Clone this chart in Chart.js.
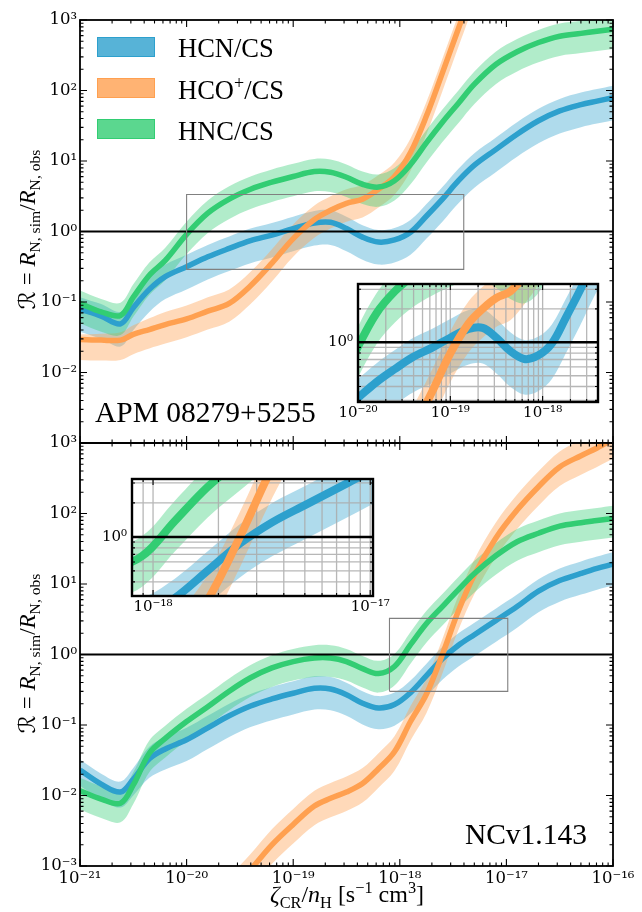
<!DOCTYPE html>
<html><head><meta charset="utf-8">
<script src="https://cdn.jsdelivr.net/npm/chart.js@4.4.0/dist/chart.umd.min.js"></script>
<style>
html,body{margin:0;padding:0;background:#fff;}
#wrap{position:relative;width:642px;height:912px;overflow:hidden;font-family:"Liberation Serif","DejaVu Serif","DejaVu Sans",serif;color:#000;}
canvas{position:absolute;}
.lab{position:absolute;white-space:nowrap;line-height:1;}
.patch{position:absolute;width:58px;height:20px;box-sizing:border-box;}
sub,sup{font-size:68%;line-height:0;}
</style></head><body>
<div id="wrap">
<canvas id="cTop" width="642" height="912" style="left:0;top:0"></canvas>
<canvas id="cBot" width="642" height="912" style="left:0;top:0"></canvas>
<canvas id="iTop" width="300" height="165" style="left:300px;top:270px"></canvas>
<canvas id="iBot" width="330" height="165" style="left:80px;top:465px"></canvas>

<div class="patch" style="left:97px;top:37px;background:rgba(45,160,205,0.8);border:1.5px solid rgb(45,160,205)"></div>
<div class="patch" style="left:97px;top:78px;background:rgba(255,160,80,0.8);border:1.5px solid rgb(255,160,80)"></div>
<div class="patch" style="left:97px;top:119px;background:rgba(50,205,115,0.8);border:1.5px solid rgb(50,205,115)"></div>
<div class="lab" style="left:178px;top:35px;font-size:26.5px">HCN/CS</div>
<div class="lab" style="left:178px;top:77px;font-size:26.5px">HCO<sup>+</sup>/CS</div>
<div class="lab" style="left:178px;top:118px;font-size:26.5px">HNC/CS</div>

<div class="lab" style="left:95px;top:398px;font-size:29.5px">APM 08279+5255</div>
<div class="lab" style="right:55px;top:820px;font-size:29.5px">NCv1.143</div>

<div class="lab" style="left:-123px;top:218px;width:300px;text-align:center;font-size:23px;transform:rotate(-90deg)"><i>ℛ</i> = <i>R</i><sub>N, sim</sub>/<i>R</i><sub>N, obs</sub></div>
<div class="lab" style="left:-123px;top:642px;width:300px;text-align:center;font-size:23px;transform:rotate(-90deg)"><i>ℛ</i> = <i>R</i><sub>N, sim</sub>/<i>R</i><sub>N, obs</sub></div>
<div class="lab" style="left:147px;top:882px;width:400px;text-align:center;font-size:24px"><i>ζ</i><sub>CR</sub>/<i>n</i><sub>H</sub> [s<sup>−1</sup> cm<sup>3</sup>]</div>
</div>
<script>
// ---------- data ----------
const xs = [1e-21,1.58e-21,2.4e-21,3.16e-21,4.47e-21,6.31e-21,1e-20,1.58e-20,2.51e-20,3.98e-20,6.31e-20,1e-19,1.58e-19,2.24e-19,3.16e-19,4.47e-19,6.31e-19,8.91e-19,1.26e-18,1.78e-18,2.51e-18,3.55e-18,5.01e-18,7.94e-18,1.26e-17,2e-17,3.16e-17,5.01e-17,7.08e-17,1e-16];

// APM 08279+5255 (top panel)
const hcnTop   = [0.0794,0.0631,0.0490,0.0832,0.151,0.229,0.316,0.437,0.575,0.741,0.891,1.10,1.32,1.35,1.10,0.832,0.708,0.759,0.977,1.66,2.88,5.25,8.71,14.5,24.0,37.2,51.3,63.1,70.8,79.4];
const hcnTopLo = [0.0380,0.0302,0.0234,0.0398,0.0724,0.110,0.151,0.209,0.275,0.355,0.427,0.525,0.631,0.646,0.525,0.398,0.339,0.363,0.468,0.794,1.38,2.51,4.17,6.92,11.5,17.8,24.5,30.2,33.9,38.0];
const hcnTopHi = [0.117,0.0933,0.0724,0.123,0.224,0.339,0.468,0.646,0.851,1.10,1.32,1.62,1.95,2.00,1.62,1.23,1.05,1.12,1.45,2.45,4.27,7.76,12.9,21.4,35.5,55.0,75.9,93.3,105,117];
const hcoTop   = [0.0295,0.0288,0.0288,0.0347,0.0407,0.0479,0.0575,0.0741,0.0955,0.170,0.355,0.794,1.48,2.00,2.51,2.88,3.98,6.03,13.2,43.7,178,759,3162,null,null,null,null,null,null,null];
const hcoTopLo = [0.0151,0.0148,0.0151,0.0182,0.0219,0.0257,0.0316,0.0407,0.0525,0.0933,0.195,0.437,0.813,1.10,1.38,1.58,2.19,3.31,7.24,24.0,97.7,417,1738,null,null,null,null,null,null,null];
const hcoTopHi = [0.0347,0.0355,0.0372,0.0468,0.0589,0.0724,0.0891,0.117,0.151,0.269,0.562,1.26,2.34,3.16,3.98,4.57,6.31,9.55,20.9,69.2,282,1202,5012,null,null,null,null,null,null,null];
const hncTop   = [0.0955,0.0724,0.0646,0.117,0.240,0.389,0.912,1.82,2.88,3.98,5.01,6.03,7.08,6.92,5.89,4.68,4.27,5.25,8.91,18.2,35.5,66.1,123,234,355,479,589,646,692,741];
const hncTopLo = [0.0501,0.0380,0.0339,0.0617,0.126,0.204,0.479,0.955,1.51,2.09,2.63,3.16,3.72,3.63,3.09,2.45,2.24,2.75,4.68,9.55,18.6,34.7,64.6,123,186,251,309,339,363,389];
const hncTopHi = [0.145,0.110,0.0977,0.178,0.363,0.589,1.38,2.75,4.37,6.03,7.59,9.12,10.7,10.5,8.91,7.08,6.46,7.94,13.5,27.5,53.7,100,186,355,537,724,891,977,1047,1122];

// NCv1.143 (bottom panel)
const hcnBot   = [0.0229,0.0145,0.0112,0.0170,0.0331,0.0457,0.0617,0.0912,0.135,0.186,0.234,0.282,0.331,0.324,0.269,0.204,0.174,0.195,0.288,0.501,0.871,1.35,1.91,3.02,4.79,7.94,11.2,14.1,16.6,19.1];
const hcnBotLo = [0.0138,0.00871,0.00676,0.0100,0.0178,0.0234,0.0309,0.0457,0.0676,0.0933,0.117,0.141,0.166,0.162,0.135,0.102,0.0871,0.0977,0.145,0.251,0.437,0.676,0.955,1.51,2.40,3.98,5.62,7.08,8.32,9.55];
const hcnBotHi = [0.0324,0.0204,0.0158,0.0245,0.0490,0.0676,0.0912,0.135,0.200,0.275,0.347,0.417,0.490,0.479,0.398,0.302,0.257,0.288,0.427,0.741,1.29,2.00,2.82,4.47,7.08,11.7,16.6,20.9,24.5,28.2];
const hcoBot   = [null,null,null,null,null,null,null,null,0.000427,0.000891,0.00200,0.00389,0.00708,0.00912,0.0112,0.0148,0.0240,0.0417,0.112,0.275,1.00,4.17,13.5,44.7,112,240,457,661,851,1122];
const hcoBotLo = [null,null,null,null,null,null,null,null,0.000229,0.000479,0.00107,0.00209,0.00380,0.00490,0.00603,0.00794,0.0129,0.0224,0.0603,0.148,0.537,2.24,7.24,24.0,60.3,129,245,355,457,603];
const hcoBotHi = [null,null,null,null,null,null,null,null,0.000708,0.00148,0.00331,0.00646,0.0117,0.0151,0.0186,0.0245,0.0398,0.0692,0.186,0.457,1.66,6.92,22.4,74.1,186,398,759,1096,1413,1862];
const hncBot   = [0.0117,0.00891,0.00776,0.0141,0.0398,0.0646,0.112,0.182,0.302,0.468,0.646,0.794,0.891,0.891,0.794,0.631,0.537,0.676,1.38,2.75,4.79,8.32,14.1,25.1,39.8,52.5,66.1,74.1,79.4,85.1];
const hncBotLo = [0.00631,0.00479,0.00417,0.00759,0.0214,0.0347,0.0603,0.0977,0.162,0.251,0.347,0.427,0.479,0.479,0.427,0.339,0.288,0.363,0.741,1.48,2.57,4.47,7.59,13.5,21.4,28.2,35.5,39.8,42.7,45.7];
const hncBotHi = [0.0178,0.0135,0.0117,0.0214,0.0603,0.0977,0.170,0.275,0.457,0.708,0.977,1.20,1.35,1.35,1.20,0.955,0.813,1.02,2.09,4.17,7.24,12.6,21.4,38.0,60.3,79.4,100,112,120,129];

// axes
const xRange = [1e-21, 1e-16];
const yRange = [1e-3, 1e3];
const refLevel = 1;
const xTickVals = [1e-21,1e-20,1e-19,1e-18,1e-17,1e-16];
const xTickLabels = ['10⁻²¹','10⁻²⁰','10⁻¹⁹','10⁻¹⁸','10⁻¹⁷','10⁻¹⁶'];
const yTickVals = [1e-3,1e-2,1e-1,1,1e1,1e2,1e3];
const yTickLabels = ['10⁻³','10⁻²','10⁻¹','10⁰','10¹','10²','10³'];
// insets
const insetTopX = [1e-20, 3.98e-18], insetTopY = [0.29, 3.35];
const insetBotX = [8e-19, 1.03e-17], insetBotY = [0.30, 3.25];
const insetTopXTicks = [1e-20,1e-19,1e-18], insetTopXLabels = ['10⁻²⁰','10⁻¹⁹','10⁻¹⁸'];
const insetBotXTicks = [1e-18,1e-17], insetBotXLabels = ['10⁻¹⁸','10⁻¹⁷'];
const insetYTicks = [1], insetYLabels = ['10⁰'];

// ---------- styles ----------
const COL = {
  hcn:{line:'rgb(45,160,205)', band:'rgba(45,160,205,0.38)'},
  hco:{line:'rgb(255,160,80)', band:'rgba(255,160,80,0.40)'},
  hnc:{line:'rgb(50,205,115)', band:'rgba(50,205,115,0.38)'}
};
const FONT = "'DejaVu Serif', 'Liberation Serif', serif";
Chart.defaults.font.family = FONT;
Chart.defaults.color = '#000';

function pts(arr){ return xs.map((x,i)=>({x:x, y:arr[i]})); }

function buildDatasets(p, lw, refW, rect){
  const ds = [];
  const series = [['hnc',p.hnc,p.hncLo,p.hncHi],['hco',p.hco,p.hcoLo,p.hcoHi],['hcn',p.hcn,p.hcnLo,p.hcnHi]];
  series.forEach(([k,c,lo,hi])=>{
    const iLo = ds.length;
    ds.push({data:pts(lo), borderWidth:0, borderColor:'transparent', pointRadius:0, fill:false, clip:0});
    ds.push({data:pts(hi), borderWidth:0, borderColor:'transparent', pointRadius:0, fill:iLo, backgroundColor:COL[k].band, clip:0});
  });
  series.forEach(([k,c])=>{
    ds.push({data:pts(c), borderColor:COL[k].line, borderWidth:lw, pointRadius:0, fill:false, clip:0, borderCapStyle:'butt'});
  });
  ds.push({data:[{x:xRange[0],y:refLevel},{x:xRange[1],y:refLevel}], borderColor:'#000', borderWidth:refW, pointRadius:0, fill:false, order:-1, tension:0, clip:0});
  if (rect){
    const [x0,x1]=rect.x, [y0,y1]=rect.y;
    ds.push({data:[{x:x0,y:y0},{x:x1,y:y0},{x:x1,y:y1},{x:x0,y:y1},{x:x0,y:y0}], borderColor:'#808080', borderWidth:1.1, pointRadius:0, fill:false, order:-2, tension:0, clip:0});
  }
  return ds;
}

const MULT = [1,2,3,4,5,6,7,8,9];
function eachLogTick(scale, fn){
  const a = Math.floor(Math.log10(scale.min))-1, b = Math.ceil(Math.log10(scale.max))+1;
  for (let d=a; d<=b; d++) for (const m of MULT){
    const v = m*Math.pow(10,d);
    if (v < scale.min*0.9999 || v > scale.max*1.0001) continue;
    fn(scale.getPixelForValue(v), m===1);
  }
}
function drawTicksFrame(chart, o){
  const {ctx, chartArea:a} = chart; const x = chart.scales.x, y = chart.scales.y;
  ctx.save();
  ctx.strokeStyle='#000'; ctx.lineWidth=o.tw;
  ctx.beginPath();
  eachLogTick(x,(px,maj)=>{ const L=maj?o.maj:o.min; ctx.moveTo(px,a.bottom); ctx.lineTo(px,a.bottom-L); ctx.moveTo(px,a.top); ctx.lineTo(px,a.top+L); });
  eachLogTick(y,(py,maj)=>{ const L=maj?o.maj:o.min; ctx.moveTo(a.left,py); ctx.lineTo(a.left+L,py); ctx.moveTo(a.right,py); ctx.lineTo(a.right-L,py); });
  ctx.stroke();
  ctx.lineWidth=o.fw;
  ctx.strokeRect(a.left, a.top, a.right-a.left, a.bottom-a.top);
  ctx.restore();
}
const mainDecor = {id:'mainDecor', afterDatasetsDraw(chart){ drawTicksFrame(chart,{tw:1.1,maj:7,min:3.5,fw:1.8}); }};
const insetDecor = {id:'insetDecor',
  beforeDraw(chart){ const {ctx,chartArea:a}=chart; ctx.save(); ctx.fillStyle='#fff'; ctx.fillRect(a.left,a.top,a.right-a.left,a.bottom-a.top); ctx.restore(); },
  beforeDatasetsDraw(chart){
    const {ctx,chartArea:a}=chart; const x=chart.scales.x, y=chart.scales.y;
    ctx.save(); ctx.strokeStyle='rgba(170,170,170,0.85)'; ctx.lineWidth=1.3; ctx.beginPath();
    eachLogTick(x,(px)=>{ ctx.moveTo(px,a.top); ctx.lineTo(px,a.bottom); });
    eachLogTick(y,(py)=>{ ctx.moveTo(a.left,py); ctx.lineTo(a.right,py); });
    ctx.stroke(); ctx.restore();
  },
  afterDatasetsDraw(chart){ drawTicksFrame(chart,{tw:1.1,maj:6,min:3,fw:2.4}); }
};

const CURVE = {line:{tension:0.35, cubicInterpolationMode:'default'}, point:{radius:0}};

function mainChart(id, p, cfg){
  return new Chart(document.getElementById(id), {
    type:'line',
    data:{datasets: buildDatasets(p, 5.5, 1.8, cfg.rect)},
    options:{
      responsive:false, animation:false, devicePixelRatio:1,
      layout:{padding:cfg.pad},
      elements:CURVE,
      plugins:{legend:{display:false}, tooltip:{enabled:false}, filler:{drawTime:'beforeDatasetsDraw', propagate:false}},
      scales:{
        x:{type:'logarithmic', min:xRange[0], max:xRange[1],
           afterFit:(s)=>{ s.height = cfg.xh; },
           afterBuildTicks:(s)=>{ s.ticks = xTickVals.map(v=>({value:v})); },
           grid:{display:false, drawTicks:false}, border:{display:false},
           ticks:{display:cfg.showX, autoSkip:false, maxRotation:0, padding:3, font:{size:16.5, family:FONT}, color:'#000', callback:(v,i)=>xTickLabels[i]}},
        y:{type:'logarithmic', min:yRange[0], max:yRange[1],
           afterFit:(s)=>{ s.width = 80; },
           afterBuildTicks:(s)=>{ s.ticks = yTickVals.map(v=>({value:v})); },
           grid:{display:false, drawTicks:false}, border:{display:false},
           ticks:{autoSkip:false, padding:3, font:{size:16.5, family:FONT}, color:'#000', callback:(v,i)=> (cfg.hideFirstY && i===0) ? '' : yTickLabels[i]}}
      }
    },
    plugins:[mainDecor]
  });
}

function insetChart(id, p, cfg){
  return new Chart(document.getElementById(id), {
    type:'line',
    data:{datasets: buildDatasets(p, 8, 2.5, null)},
    options:{
      responsive:false, animation:false, devicePixelRatio:1,
      layout:{padding:cfg.pad},
      elements:CURVE,
      plugins:{legend:{display:false}, tooltip:{enabled:false}, filler:{drawTime:'beforeDatasetsDraw', propagate:false}},
      scales:{
        x:{type:'logarithmic', min:cfg.x[0], max:cfg.x[1],
           afterFit:(s)=>{ s.height = 25; },
           afterBuildTicks:(s)=>{ s.ticks = cfg.xt.map(v=>({value:v})); },
           grid:{display:false, drawTicks:false}, border:{display:false},
           ticks:{autoSkip:false, maxRotation:0, padding:2, font:{size:15, family:FONT}, color:'#000', callback:(v,i)=>cfg.xl[i]}},
        y:{type:'logarithmic', min:cfg.y[0], max:cfg.y[1],
           afterFit:(s)=>{ s.width = cfg.yw; },
           afterBuildTicks:(s)=>{ s.ticks = insetYTicks.map(v=>({value:v})); },
           grid:{display:false, drawTicks:false}, border:{display:false},
           ticks:{autoSkip:false, padding:5, font:{size:15, family:FONT}, color:'#000', callback:(v,i)=>insetYLabels[i]}}
      }
    },
    plugins:[insetDecor]
  });
}

const topP = {hcn:hcnTop,hcnLo:hcnTopLo,hcnHi:hcnTopHi,hco:hcoTop,hcoLo:hcoTopLo,hcoHi:hcoTopHi,hnc:hncTop,hncLo:hncTopLo,hncHi:hncTopHi};
const botP = {hcn:hcnBot,hcnLo:hcnBotLo,hcnHi:hcnBotHi,hco:hcoBot,hcoLo:hcoBotLo,hcoHi:hcoBotHi,hnc:hncBot,hncLo:hncBotLo,hncHi:hncBotHi};

mainChart('cTop', topP, {pad:{left:0,right:29,top:20,bottom:469}, xh:0, showX:false, hideFirstY:true, rect:{x:insetTopX,y:insetTopY}});
mainChart('cBot', botP, {pad:{left:0,right:29,top:443,bottom:16}, xh:30, showX:true, hideFirstY:false, rect:{x:insetBotX,y:insetBotY}});
insetChart('iTop', topP, {pad:{left:0,right:2,top:12,bottom:8}, yw:58, x:insetTopX, y:insetTopY, xt:insetTopXTicks, xl:insetTopXLabels});
insetChart('iBot', botP, {pad:{left:0,right:37,top:11,bottom:9}, yw:52, x:insetBotX, y:insetBotY, xt:insetBotXTicks, xl:insetBotXLabels});
</script>
</body></html>
